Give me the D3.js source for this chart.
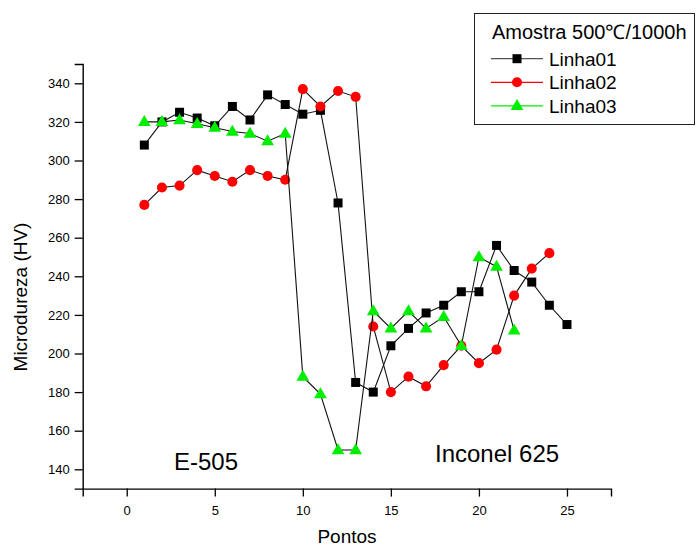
<!DOCTYPE html>
<html>
<head>
<meta charset="utf-8">
<script src="https://cdn.jsdelivr.net/npm/d3@7/dist/d3.min.js"></script>
<style>
  html, body { margin: 0; padding: 0; background: #fff; }
  svg { display: block; }
  text { font-family: "Liberation Sans", Arial, sans-serif; }
</style>
</head>
<body>
<script>
// Microdureza x Pontos, amostra 500°C/1000h (Origin-style line+symbol plot)

// ── data ───────────────────────────────────────────────────────────────
var pontos01 = [1, 2, 3, 4, 5, 6, 7, 8, 9, 10, 11, 12, 13, 14, 15, 16, 17, 18, 19, 20, 21, 22, 23, 24, 25];
var linha01  = [308, 320, 325, 322, 318, 328, 321, 334, 329, 324, 326, 278, 185, 180, 204, 213, 221, 225, 232, 232, 256, 243, 237, 225, 215];

var pontos02 = [1, 2, 3, 4, 5, 6, 7, 8, 9, 10, 11, 12, 13, 14, 15, 16, 17, 18, 19, 20, 21, 22, 23, 24];
var linha02  = [277, 286, 287, 295, 292, 289, 295, 292, 290, 337, 328, 336, 333, 214, 180, 188, 183, 194, 204, 195, 202, 230, 244, 252];

var pontos03 = [1, 2, 3, 4, 5, 6, 7, 8, 9, 10, 11, 12, 13, 14, 15, 16, 17, 18, 19, 20, 21, 22];
var linha03  = [320, 320, 321, 319, 317, 315, 314, 310, 314, 188, 179, 150, 150, 222, 213, 222, 213, 219, 204, 250, 245, 212];

var seriesNames = ['Linha01', 'Linha02', 'Linha03'];
var legendTitle = 'Amostra 500\u2103/1000h';

var xMajor = [0, 5, 10, 15, 20, 25];
var xMinor = [-2.5, 2.5, 7.5, 12.5, 17.5, 22.5, 27.5];
var yMajor = [140, 160, 180, 200, 220, 240, 260, 280, 300, 320, 340];
var yMinor = [130, 150, 170, 190, 210, 230, 250, 270, 290, 310, 330, 350];

// ── geometry ───────────────────────────────────────────────────────────
var W = 696, H = 548;
var x = d3.scaleLinear().domain([-2.5, 27.5]).range([82.7, 611]);
var y = d3.scaleLinear().domain([130, 350]).range([488.6, 64]);

var svg = d3.select('body').append('svg')
    .attr('width', W).attr('height', H);

// ── axes ───────────────────────────────────────────────────────────────
function drawAxis(axisFn, scale, major, minor, transform) {
    var g = svg.append('g').attr('transform', transform);
    g.call(axisFn(scale).tickValues(minor).tickSize(4).tickFormat(''));
    g.call(axisFn(scale).tickValues(major).tickSize(8).tickPadding(5).tickFormat(d3.format('d')));
    g.selectAll('.domain').attr('stroke', '#000').attr('stroke-width', 1.4);
    g.selectAll('.tick line').attr('stroke', '#000').attr('stroke-width', 1.3);
    g.selectAll('.tick text')
        .attr('fill', '#000')
        .attr('font-size', '13px')
        .attr('font-family', '"Liberation Sans", Arial, sans-serif');
    return g;
}

// outer tick size 0 so the domain line is a plain line
var xAxisFn = function (s) { return d3.axisBottom(s).tickSizeOuter(0); };
var yAxisFn = function (s) { return d3.axisLeft(s).tickSizeOuter(0); };

var gx = drawAxis(xAxisFn, x, xMajor, xMinor, 'translate(0,' + y(130) + ')');
gx.selectAll('.tick text').attr('dy', '1.0em');
drawAxis(yAxisFn, y, yMajor, yMinor, 'translate(' + x(-2.5) + ',0)');

// axis titles
svg.append('text')
    .attr('x', 347).attr('y', 542.5)
    .attr('text-anchor', 'middle')
    .attr('font-size', '19px')
    .text('Pontos');

svg.append('text')
    .attr('transform', 'translate(27,297) rotate(-90)')
    .attr('text-anchor', 'middle')
    .attr('font-size', '19px')
    .text('Microdureza (HV)');

// region annotations
svg.append('text')
    .attr('x', 174).attr('y', 470)
    .attr('font-size', '24px')
    .text('E-505');
svg.append('text')
    .attr('x', 435).attr('y', 462)
    .attr('font-size', '24px')
    .text('Inconel 625');

// ── series ─────────────────────────────────────────────────────────────
var series = [
    { name: seriesNames[0], xs: pontos01, ys: linha01, shape: 'square',   fill: '#000000', legendLine: '#555555' },
    { name: seriesNames[1], xs: pontos02, ys: linha02, shape: 'circle',   fill: '#ff0000', legendLine: '#ff0000' },
    { name: seriesNames[2], xs: pontos03, ys: linha03, shape: 'triangle', fill: '#00ee00', legendLine: '#00ee00' }
];

var symbolPath = {
    square:   d3.symbol().type(d3.symbolSquare).size(81)(),
    circle:   d3.symbol().type(d3.symbolCircle).size(80)(),
    triangle: d3.symbol().type(d3.symbolTriangle).size(70)()
};

var line = d3.line()
    .x(function (d) { return x(d[0]); })
    .y(function (d) { return y(d[1]); });

series.forEach(function (s) {
    var pts = s.xs.map(function (v, i) { return [v, s.ys[i]]; });
    var g = svg.append('g');
    g.append('path')
        .attr('d', line(pts))
        .attr('fill', 'none')
        .attr('stroke', '#111')
        .attr('stroke-width', 1.1);
    g.selectAll('path.sym').data(pts).enter().append('path')
        .attr('class', 'sym')
        .attr('d', symbolPath[s.shape])
        .attr('transform', function (d) {
            var dy = s.shape === 'triangle' ? 0.5 : 0;
            return 'translate(' + x(d[0]) + ',' + (y(d[1]) + dy) + ')';
        })
        .attr('fill', s.fill);
});

// ── legend ─────────────────────────────────────────────────────────────
var lg = svg.append('g');
lg.append('rect')
    .attr('x', 474.5).attr('y', 13.5)
    .attr('width', 220).attr('height', 111)
    .attr('fill', '#fff')
    .attr('stroke', '#222').attr('stroke-width', 1);
lg.append('text')
    .attr('x', 492).attr('y', 38.5)
    .attr('font-size', '20px')
    .text(legendTitle);

series.forEach(function (s, i) {
    var cy = 58.7 + i * 23.6;
    lg.append('line')
        .attr('x1', 491).attr('x2', 543)
        .attr('y1', cy).attr('y2', cy)
        .attr('stroke', s.legendLine).attr('stroke-width', 1.3);
    lg.append('path')
        .attr('d', symbolPath[s.shape])
        .attr('transform', 'translate(517,' + (cy + (s.shape === 'triangle' ? 0.5 : 0)) + ')')
        .attr('fill', s.fill);
    lg.append('text')
        .attr('x', 549).attr('y', cy + 7)
        .attr('font-size', '19px')
        .text(s.name);
});
</script>
</body>
</html>
